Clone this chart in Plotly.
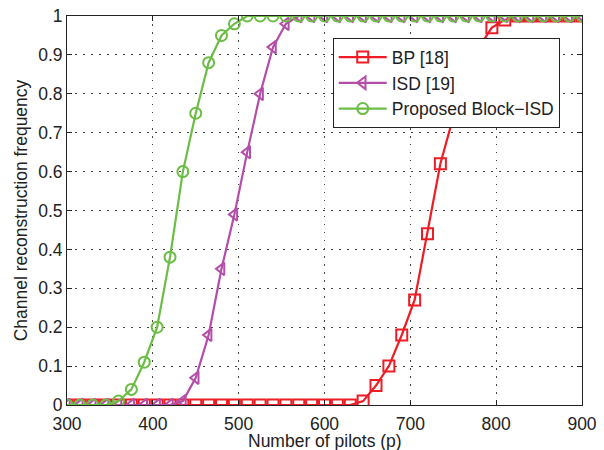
import plotly.graph_objects as go

pilots = list(range(300, 901, 15))

bp = [0]*23 + [0.01, 0.05, 0.10, 0.18, 0.27, 0.44, 0.62, 0.74, 0.84, 0.92, 0.97, 0.99] + [1.0]*6
isd = [0]*9 + [0.01, 0.07, 0.18, 0.35, 0.49, 0.65, 0.80, 0.92, 0.98] + [1.0]*23
block_isd = [0, 0, 0, 0, 0.01, 0.04, 0.11, 0.20, 0.38, 0.60, 0.75, 0.88, 0.95, 0.98] + [1.0]*27

series = [
    ("BP [18]", bp, "#ee1d25", "square-open"),
    ("ISD [19]", isd, "#b44ea8", "triangle-left-open"),
    ("Proposed Block\u2212ISD", block_isd, "#6cbd45", "circle-open"),
]

fig = go.Figure()
for name, vals, color, sym in series:
    fig.add_trace(go.Scatter(
        x=pilots, y=vals, name=name, mode="lines+markers",
        line=dict(color=color, width=2.2),
        marker=dict(symbol=sym, size=11, color=color, line=dict(width=2, color=color)),
    ))

font = "Liberation Sans, Arial, sans-serif"
fs = 17.5
fig.update_layout(
    width=604, height=450,
    margin=dict(l=67, r=22, t=16, b=45),
    paper_bgcolor="white", plot_bgcolor="white",
    font=dict(family=font, size=fs, color="#222"),
    showlegend=True,
    legend=dict(x=0.516, y=0.943, xanchor="left", yanchor="top",
                bgcolor="white", bordercolor="#222", borderwidth=1,
                font=dict(size=fs), tracegroupgap=0, itemwidth=48),
    annotations=[dict(text="Number of pilots (p)", xref="paper", yref="paper",
                      x=0.5, y=-0.0925, xanchor="center", yanchor="middle",
                      showarrow=False, font=dict(size=fs))],
)
grid = dict(showgrid=True, gridcolor="#444", griddash="1.5px,6.5px", gridwidth=1)
fig.update_xaxes(
    range=[300, 900], dtick=100, tick0=300, automargin=False,
    showline=True, linecolor="#222", linewidth=1, mirror="ticks",
    ticks="inside", ticklen=5, tickcolor="#222",
    zeroline=False, ticklabeloverflow="allow", ticklabelstandoff=3,
    tickfont=dict(size=fs),
    **grid,
)
fig.update_yaxes(
    range=[0, 1], dtick=0.1, tick0=0, automargin=False,
    showline=True, linecolor="#222", linewidth=1, mirror="ticks",
    ticks="inside", ticklen=5, tickcolor="#222",
    zeroline=False, ticklabeloverflow="allow",
    title=dict(text="Channel reconstruction frequency", standoff=6, font=dict(size=fs)),
    tickfont=dict(size=fs),
    **grid,
)

fig.write_html("out.html", config={"displayModeBar": False},
               post_script="document.body.style.margin='0px';")
